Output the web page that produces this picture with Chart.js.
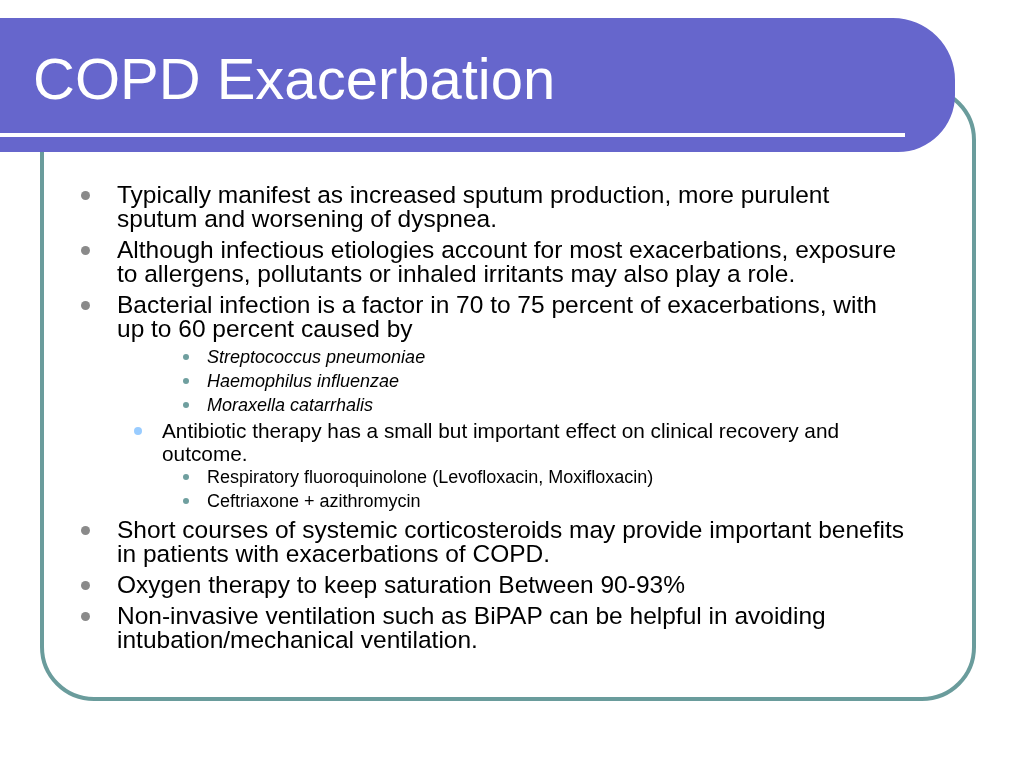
<!DOCTYPE html>
<html><head><meta charset="utf-8">
<script src="https://cdn.jsdelivr.net/npm/chart.js@4"></script>
<style>
body{margin:0;width:1024px;height:768px;background:#fff;font-family:"Liberation Sans",Arial,sans-serif;overflow:hidden}
#wrap{position:relative;width:1024px;height:768px}
canvas{position:absolute;left:0;top:0}
#title{position:absolute;left:33px;top:44px;font-size:58px;line-height:70px;color:#fff}
.t{position:absolute;white-space:nowrap;color:#000}
.l1{left:117px;font-size:24.5px;line-height:24px}
.l2{left:162px;font-size:20.8px;line-height:23px}
.l3{left:207px;font-size:18px;line-height:24px}
.b{position:absolute;border-radius:50%}
</style></head><body>
<div id="wrap"><canvas id="c" width="1024" height="768"></canvas>
<div id="title">COPD Exacerbation</div>
<div id="txt"></div></div>
<script>
const level1 = [
  ["Typically manifest as increased sputum production, more purulent", "sputum and worsening of dyspnea."],
  ["Although infectious etiologies account for most exacerbations, exposure", "to allergens, pollutants or inhaled irritants may also play a role."],
  ["Bacterial infection is a factor in 70 to 75 percent of exacerbations, with", "up to 60 percent caused by"],
];
const organisms = ["Streptococcus pneumoniae", "Haemophilus influenzae", "Moraxella catarrhalis"];
const therapy = ["Antibiotic therapy has a small but important effect on clinical recovery and", "outcome."];
const antibiotics = ["Respiratory fluoroquinolone (Levofloxacin, Moxifloxacin)", "Ceftriaxone + azithromycin"];
const level1b = [
  ["Short courses of systemic corticosteroids may provide important benefits", "in patients with exacerbations of COPD."],
  ["Oxygen therapy to keep saturation Between 90-93%"],
  ["Non-invasive ventilation such as BiPAP can be helpful in avoiding", "intubation/mechanical ventilation."],
];

const txt = document.getElementById("txt");
function item(lines, cls, top, bx, bsize, bcol, italic) {
  const d = document.createElement("div");
  d.className = "t " + cls; d.style.top = top + "px";
  if (italic) d.style.fontStyle = "italic";
  d.innerHTML = lines.join("<br>");
  txt.appendChild(d);
  const b = document.createElement("div");
  b.className = "b";
  Object.assign(b.style, {left: bx + "px", top: (top + 12 - bsize / 2) + "px", width: bsize + "px", height: bsize + "px", background: bcol});
  txt.appendChild(b);
}
const grey = "#8a8a8a", teal = "#6f9f9f";
let y = 183;
level1.forEach(l => { item(l, "l1", y, 81, 9, grey); y += 55; });
y = 345;
organisms.forEach(o => { item([o], "l3", y, 183, 6, teal, true); y += 24; });
item(therapy, "l2", 419, 134, 8, "#99ccff");
y = 465;
antibiotics.forEach(a => { item([a], "l3", y, 183, 6, teal); y += 24; });
y = 518;
level1b.forEach(l => { item(l, "l1", y, 81, 9, grey); y += l.length * 24 + 7; });

// slide frame drawn through a Chart.js plugin
const frame = {
  id: "frame",
  beforeDraw(chart) {
    const c = chart.ctx;
    c.save();
    c.fillStyle = "#fff"; c.fillRect(0, 0, 1024, 768);
    c.strokeStyle = "#6a9c9c"; c.lineWidth = 4;
    c.beginPath(); c.roundRect(42, 88, 932, 611, 52); c.stroke();
    c.fillStyle = "#6666cc";
    c.beginPath(); c.moveTo(0, 18); c.lineTo(895, 18);
    c.arcTo(955, 18, 955, 85, 62); c.lineTo(955, 95);
    c.arcTo(955, 152, 895, 152, 57); c.lineTo(0, 152); c.closePath(); c.fill();
    c.fillStyle = "#fff"; c.fillRect(0, 133, 905, 4);
    c.restore();
  }
};
new Chart(document.getElementById("c"), {
  type: "scatter",
  data: {datasets: []},
  options: {responsive: false, animation: false, events: [],
    plugins: {legend: {display: false}, tooltip: {enabled: false}},
    scales: {x: {display: false}, y: {display: false}}},
  plugins: [frame]
});
</script></body></html>
